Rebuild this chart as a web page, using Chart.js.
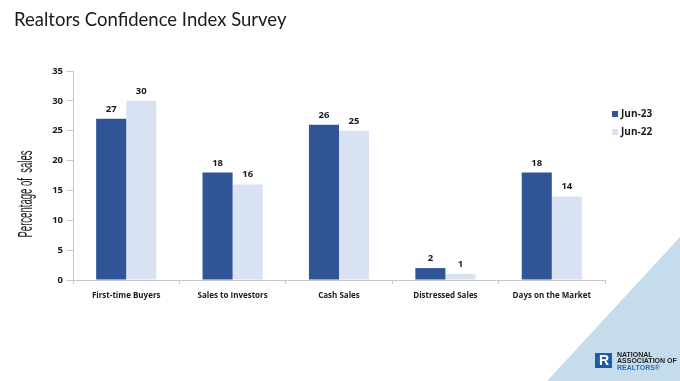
<!DOCTYPE html>
<html><head><meta charset="utf-8">
<style>html,body{margin:0;padding:0;background:#fff;overflow:hidden}#wrap{position:relative;width:680px;height:381px}canvas{display:block}</style>
<script src="https://cdn.jsdelivr.net/npm/chart.js@4/dist/chart.umd.min.js"></script>
</head><body><div id="wrap"><canvas id="c" width="680" height="381"></canvas></div>
<script>
const categories = ["First-time Buyers", "Sales to Investors", "Cash Sales", "Distressed Sales", "Days on the Market"];
const seriesNames = ["Jun-23", "Jun-22"];
const jun23 = [27, 18, 26, 2, 18];
const jun22 = [30, 16, 25, 1, 14];
const yTicks = [0, 5, 10, 15, 20, 25, 30, 35];
const chartTitle = "Realtors Confidence Index Survey";
const yTitle = "Percentage of  sales";

const DARK = "#2f5597", LIGHT = "#d9e2f3";

const decor = {
  id: "decor",
  beforeDraw(chart) {
    const ctx = chart.ctx;
    ctx.save();
    ctx.fillStyle = "#c5dcec";
    ctx.beginPath();
    ctx.moveTo(680, 237); ctx.lineTo(680, 381); ctx.lineTo(547, 381); ctx.closePath(); ctx.fill();
    ctx.restore();
  },
  afterDraw(chart) {
    const ctx = chart.ctx;
    ctx.save();
    // title
    ctx.fillStyle = "#1a1a1a";
    ctx.font = "18.5px Lato, 'Open Sans', sans-serif";
    ctx.textBaseline = "middle"; ctx.textAlign = "left";
    ctx.fillText(chartTitle, 14, 20);
    // y title (condensed)
    ctx.save();
    ctx.font = "20px 'Liberation Sans', sans-serif";
    const w = ctx.measureText(yTitle).width;
    ctx.translate(32, 194);
    ctx.rotate(-Math.PI / 2);
    ctx.scale(87 / w, 1);
    ctx.textAlign = "center"; ctx.fillStyle = "#1a1a1a"; ctx.textBaseline = "alphabetic";
    ctx.fillText(yTitle, 0, 0);
    ctx.restore();
    // data labels
    ctx.font = "bold 9.5px 'Open Sans', sans-serif";
    ctx.fillStyle = "#1a1a1a"; ctx.textAlign = "center"; ctx.textBaseline = "alphabetic";
    chart.data.datasets.forEach((ds, i) => {
      chart.getDatasetMeta(i).data.forEach((el, j) => {
        ctx.fillText(String(ds.data[j]), el.x, el.y - 7);
      });
    });
    // legend
    ctx.font = "bold 10px 'Open Sans', sans-serif";
    ctx.textBaseline = "middle"; ctx.textAlign = "left";
    chart.data.datasets.forEach((ds, i) => {
      const y = 114 + i * 18;
      ctx.fillStyle = ds.backgroundColor;
      ctx.fillRect(612, y - 3, 6, 6);
      ctx.fillStyle = "#1a1a1a";
      ctx.fillText(ds.label, 621, y);
    });
    // logo
    ctx.fillStyle = "#1f5aa6";
    ctx.fillRect(595, 353, 17, 15);
    ctx.fillStyle = "#fff";
    ctx.font = "bold 14px 'Liberation Sans', sans-serif";
    ctx.textAlign = "center";
    ctx.fillText("R", 604, 361);
    ctx.textAlign = "left";
    ctx.font = "bold 7px 'Liberation Sans', sans-serif";
    ctx.fillStyle = "#222";
    ctx.fillText("NATIONAL", 617, 355);
    ctx.fillText("ASSOCIATION OF", 617, 361.5);
    ctx.fillStyle = "#1f6fc1";
    ctx.fillText("REALTORS\u00ae", 617, 368);
    ctx.restore();
  }
};

new Chart(document.getElementById("c"), {
  type: "bar",
  data: {
    labels: categories,
    datasets: [
      { label: seriesNames[0], data: jun23, backgroundColor: DARK },
      { label: seriesNames[1], data: jun22, backgroundColor: LIGHT }
    ]
  },
  options: {
    responsive: false, animation: false,
    categoryPercentage: 0.565, barPercentage: 1,
    layout: { padding: { left: 0, top: 71, right: 75, bottom: 0 } },
    plugins: { legend: { display: false }, tooltip: { enabled: false }, title: { display: false } },
    scales: {
      x: {
        afterFit: s => { s.height = 101; },
        grid: { offset: true, drawOnChartArea: false, tickLength: 4, color: "#c8c8c8" },
        border: { color: "#c8c8c8" },
        ticks: { color: "#1a1a1a", font: { family: "'Open Sans', sans-serif", size: 8, weight: "bold" }, padding: 7, maxRotation: 0, autoSkip: false }
      },
      y: {
        min: 0, max: 35,
        afterFit: s => { s.width = 73; },
        afterBuildTicks: s => { s.ticks = yTicks.map(v => ({ value: v })); },
        grid: { drawOnChartArea: false, tickLength: 6, color: "#c8c8c8" },
        border: { color: "#c8c8c8" },
        ticks: { color: "#1a1a1a", font: { family: "'Open Sans', sans-serif", size: 9.5, weight: "bold" }, padding: 4 }
      }
    }
  },
  plugins: [decor]
});
</script></body></html>
